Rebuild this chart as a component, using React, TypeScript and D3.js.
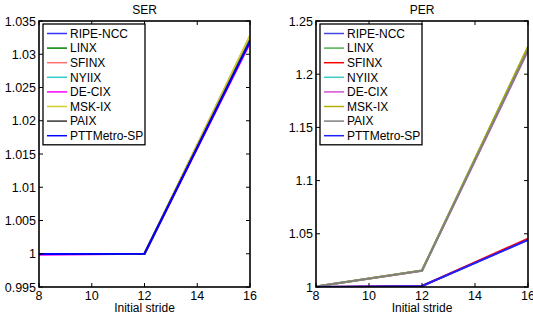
import React from 'react';
import * as d3 from 'd3';

const strides = [8, 12, 16];
const names = ['RIPE-NCC', 'LINX', 'SFINX', 'NYIIX', 'DE-CIX', 'MSK-IX', 'PAIX', 'PTTMetro-SP'];

const serValues = [
  [0.99995, 1.0, 1.032],
  [0.99995, 1.0, 1.0325],
  [0.99995, 1.0, 1.0327],
  [0.99995, 1.0, 1.0323],
  [0.99985, 1.0, 1.0317],
  [0.99995, 1.0, 1.0328],
  [0.99995, 1.0, 1.0321],
  [0.99995, 1.0, 1.0319],
];
const perValues = [
  [1.0, 1.0008, 1.0445],
  [1.0005, 1.0155, 1.2255],
  [1.0, 1.001, 1.0455],
  [1.0005, 1.0155, 1.2245],
  [1.0005, 1.0153, 1.222],
  [1.0005, 1.0155, 1.2258],
  [1.0005, 1.0154, 1.223],
  [1.0, 1.001, 1.0442],
];

const serColors = ['#3333ff', '#008000', '#ff7070', '#33cccc', '#ff00ff', '#cccc33', '#333333', '#0000ff'];
const perColors = ['#4545e5', '#50b050', '#ff0000', '#40c8c8', '#d050d0', '#b0b000', '#808080', '#2020ff'];

const xTicks = [8, 10, 12, 14, 16];
const serTicks = [0.995, 1, 1.005, 1.01, 1.015, 1.02, 1.025, 1.03, 1.035];
const perTicks = [1, 1.05, 1.1, 1.15, 1.2, 1.25];

const FONT = 'Liberation Sans, Arial, Helvetica, sans-serif';

type PanelProps = {
  title: string;
  left: number;
  right: number;
  values: number[][];
  colors: string[];
  yDomain: [number, number];
  yTicks: number[];
  yFmt: (v: number) => string;
};

function Panel({ title, left, right, values, colors, yDomain, yTicks, yFmt }: PanelProps) {
  const top = 21;
  const bottom = 287;
  const x = d3.scaleLinear().domain([8, 16]).range([left, right]);
  const y = d3.scaleLinear().domain(yDomain).range([bottom, top]);
  const line = d3.line<number>().x((_, i) => x(strides[i])).y((d) => y(d));
  const tk = 4;
  const lx = left + 4;
  const ly = 24;
  const lw = 102;
  const rowH = 14.6;

  return (
    <g fontFamily={FONT}>
      <text x={(left + right) / 2} y={14} textAnchor="middle" fontSize={12}>{title}</text>
      <defs>
        <clipPath id={`clip-${title}`}>
          <rect x={left} y={top} width={right - left} height={bottom - top} />
        </clipPath>
      </defs>
      <g clipPath={`url(#clip-${title})`}>
        {values.map((v, i) => (
          <path key={names[i]} d={line(v) ?? ''} fill="none" stroke={colors[i]} strokeWidth={2} />
        ))}
      </g>
      {xTicks.map((t) => (
        <g key={t}>
          <line x1={x(t)} x2={x(t)} y1={bottom} y2={bottom - tk} stroke="#000" />
          <line x1={x(t)} x2={x(t)} y1={top} y2={top + tk} stroke="#000" />
          <text x={x(t)} y={bottom + 12.5} textAnchor="middle" fontSize={12.5}>{t}</text>
        </g>
      ))}
      {yTicks.map((t) => (
        <g key={t}>
          <line x1={left} x2={left + tk} y1={y(t)} y2={y(t)} stroke="#000" />
          <line x1={right} x2={right - tk} y1={y(t)} y2={y(t)} stroke="#000" />
          <text x={left - 3} y={y(t) + 4.5} textAnchor="end" fontSize={12.5}>{yFmt(t)}</text>
        </g>
      ))}
      <rect x={left} y={top} width={right - left} height={bottom - top} fill="none" stroke="#000" strokeWidth={1.6} />
      <text x={(left + right) / 2} y={312} textAnchor="middle" fontSize={12}>Initial stride</text>
      <rect x={lx} y={ly} width={lw} height={rowH * 8 + 4} fill="#fff" stroke="#000" strokeWidth={1.3} />
      {names.map((n, i) => {
        const cy = ly + 9.5 + i * rowH;
        return (
          <g key={n}>
            <line x1={lx + 4} x2={lx + 24} y1={cy} y2={cy} stroke={colors[i]} strokeWidth={1.5} />
            <text x={lx + 27} y={cy + 4.3} fontSize={12}>{n}</text>
          </g>
        );
      })}
    </g>
  );
}

export default function App() {
  const fmt = (v: number) => d3.format('')(+v.toFixed(3));
  return (
    <div style={{ position: 'absolute', left: 0, top: 0, background: '#fff' }}>
      <svg width={533} height={322}>
        <rect width={533} height={322} fill="#fff" />
        <Panel title="SER" left={39} right={250} values={serValues} colors={serColors}
          yDomain={[0.995, 1.035]} yTicks={serTicks} yFmt={fmt} />
        <Panel title="PER" left={316} right={528} values={perValues} colors={perColors}
          yDomain={[1, 1.25]} yTicks={perTicks} yFmt={fmt} />
      </svg>
    </div>
  );
}
